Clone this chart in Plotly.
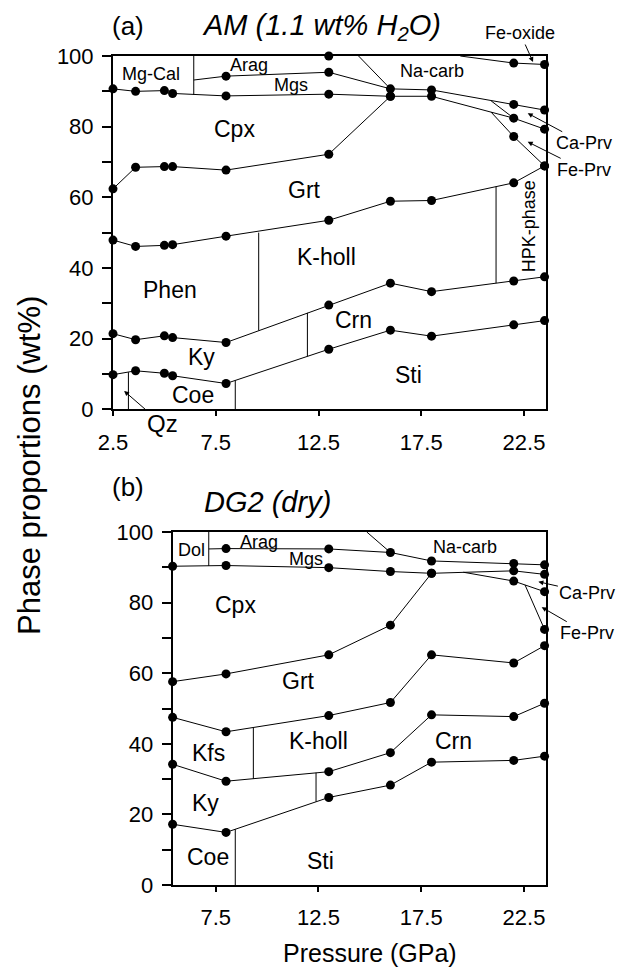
import plotly.graph_objects as go

# ---------------- data: panel (a) AM (1.1 wt% H2O) ----------------
am_p = [2.5, 3.6, 5.0, 5.4, 8.0, 13.0, 16.0, 18.0, 22.0, 23.5]
am_sti_top = [9.8, 10.9, 10.2, 9.5, 7.3, 17.0, 22.4, 20.7, 23.9, 25.1]
am_crn_top = [21.4, 19.7, 20.8, 20.3, 18.9, 29.5, 35.7, 33.3, 36.3, 37.5]
am_grt_bottom = [47.9, 46.1, 46.4, 46.6, 49.0, 53.5, 58.9, 59.1, 64.1, 68.9]
am_cpx_bottom_p = [2.5, 3.6, 5.0, 5.4, 8.0, 13.0, 16.0]
am_cpx_bottom = [62.4, 68.5, 68.7, 68.7, 67.7, 72.2, 88.6]
am_cpx_top_p = [2.5, 3.6, 5.0, 5.4, 8.0, 13.0, 16.0, 18.0, 22.0, 23.5]
am_cpx_top = [90.7, 90.0, 90.2, 89.4, 88.7, 89.2, 88.6, 88.6, 82.4, 79.3]
am_mgs_top_p = [6.43, 8.0, 13.0, 16.0, 18.0, 22.0, 23.5]
am_mgs_top = [93.2, 94.3, 95.4, 90.7, 90.4, 86.3, 84.7]
am_mgs_top_mark = [0, 1, 1, 1, 1, 1, 1]
am_arag_p = [13.0]
am_arag = [100.0]
am_feox_p = [19.4, 22.0, 23.5]
am_feox = [100.0, 98.0, 97.6]
am_feox_mark = [0, 1, 1]
am_feprv_p = [20.9, 22.0, 23.5]
am_feprv = [84.1, 77.2, 68.9]
am_feprv_mark = [0, 1, 1]
am_caprv_p = [20.9, 22.0]
am_caprv = [87.3, 82.4]
am_nacarb_p = [14.45, 16.0]
am_nacarb = [100.0, 90.7]
# vertical phase boundaries: pressure, top, bottom
am_vert_p = [6.43, 9.59, 11.96, 8.45, 3.25, 21.14]
am_vert_top = [100.0, 50.0, 27.3, 8.2, 10.5, 63.0]
am_vert_bot = [89.0, 22.3, 15.0, 0.0, 0.0, 35.7]

# ---------------- data: panel (b) DG2 (dry) ----------------
dg_p = [5.4, 8.0, 13.0, 16.0, 18.0, 22.0, 23.5]
dg_sti_top = [17.2, 14.9, 24.8, 28.3, 34.8, 35.3, 36.5]
dg_crn_top = [34.2, 29.4, 32.1, 37.5, 48.2, 47.7, 51.5]
dg_grt_bottom = [47.5, 43.4, 48.0, 51.7, 65.2, 62.9, 67.8]
dg_cpx_bottom_p = [5.4, 8.0, 13.0, 16.0, 18.0]
dg_cpx_bottom = [57.6, 59.8, 65.2, 73.6, 88.3]
dg_cpx_top = [90.3, 90.5, 89.9, 88.8, 88.3, 89.0, 88.0]
dg_mgs_top_p = [7.16, 8.0, 13.0, 16.0, 18.0, 22.0, 23.5]
dg_mgs_top = [95.2, 95.3, 95.2, 94.2, 91.8, 91.1, 90.7]
dg_mgs_top_mark = [0, 1, 1, 1, 1, 1, 1]
dg_caprv_p = [19.55, 22.0, 23.5]
dg_caprv = [88.6, 86.1, 83.1]
dg_caprv_mark = [0, 1, 1]
dg_feprv_p = [22.55, 23.5]
dg_feprv = [85.0, 72.4]
dg_feprv_mark = [0, 1]
dg_nacarb_p = [14.85, 16.0]
dg_nacarb = [100.0, 94.2]
dg_vert_p = [7.16, 9.33, 12.38, 8.45]
dg_vert_top = [100.0, 44.6, 31.8, 15.8]
dg_vert_bot = [90.4, 30.1, 23.6, 0.0]

# phase labels: text, pressure, wt%, size
am_labels = [("Mg-Cal", 4.35, 94.9, 18), ("Arag", 9.12, 97.4, 18), ("Mgs", 11.16, 91.8, 18),
             ("Na-carb", 18.0, 95.8, 18), ("Cpx", 8.39, 79.3, 23), ("Grt", 11.8, 62.0, 23),
             ("K-holl", 12.9, 43.1, 23), ("Phen", 5.27, 33.7, 23), ("Ky", 6.83, 14.8, 23),
             ("Coe", 6.39, 4.0, 23), ("Crn", 14.18, 25.2, 23), ("Sti", 16.86, 9.7, 23)]
dg_labels = [("Dol", 6.34, 94.9, 18), ("Arag", 9.6, 97.2, 18), ("Mgs", 11.9, 92.4, 18),
             ("Na-carb", 19.63, 95.7, 18), ("Cpx", 8.44, 79.3, 23), ("Grt", 11.55, 57.8, 23),
             ("Kfs", 7.17, 37.4, 23), ("K-holl", 12.5, 40.8, 23), ("Crn", 19.05, 40.8, 23),
             ("Ky", 6.98, 23.2, 23), ("Coe", 7.12, 7.9, 23), ("Sti", 12.6, 6.8, 23)]

x_ticks = [2.5, 7.5, 12.5, 17.5, 22.5]

FONT = "Liberation Sans, Arial, Helvetica, sans-serif"
W, H = 619, 967
PX_PER_GPA = 20.55
X0_PX, X1_PX = 113, 546
P_MAX = 2.5 + (X1_PX - X0_PX) / PX_PER_GPA
MS = 9

fig = go.Figure()


def add_line(xs, ys, ax, marks=None):
    if marks is None:
        marks = [1] * len(xs)
    fig.add_trace(go.Scatter(
        x=xs, y=ys, mode="lines+markers", xaxis="x" + ax, yaxis="y" + ax,
        line=dict(color="black", width=1),
        marker=dict(color="black", opacity=1, line=dict(width=0),
                    size=[MS if m else 0 for m in marks]),
        showlegend=False, hoverinfo="skip", cliponaxis=False))


def add_verticals(ps, tops, bots, ax):
    for p, t, b in zip(ps, tops, bots):
        fig.add_trace(go.Scatter(
            x=[p, p], y=[t, b], mode="lines", xaxis="x" + ax, yaxis="y" + ax,
            line=dict(color="black", width=1), showlegend=False, hoverinfo="skip"))


# panel (a)
add_line(am_p, am_sti_top, "")
add_line(am_p, am_crn_top, "")
add_line(am_p, am_grt_bottom, "")
add_line(am_cpx_bottom_p, am_cpx_bottom, "")
add_line(am_cpx_top_p, am_cpx_top, "")
add_line(am_mgs_top_p, am_mgs_top, "", am_mgs_top_mark)
add_line(am_arag_p, am_arag, "")
add_line(am_feox_p, am_feox, "", am_feox_mark)
add_line(am_feprv_p, am_feprv, "", am_feprv_mark)
add_line(am_caprv_p, am_caprv, "", [0, 0])
add_line(am_nacarb_p, am_nacarb, "", [0, 0])
add_verticals(am_vert_p, am_vert_top, am_vert_bot, "")

# panel (b)
add_line(dg_p, dg_sti_top, "2")
add_line(dg_p, dg_crn_top, "2")
add_line(dg_p, dg_grt_bottom, "2")
add_line(dg_cpx_bottom_p, dg_cpx_bottom, "2")
add_line(dg_p, dg_cpx_top, "2")
add_line(dg_mgs_top_p, dg_mgs_top, "2", dg_mgs_top_mark)
add_line(dg_caprv_p, dg_caprv, "2", dg_caprv_mark)
add_line(dg_feprv_p, dg_feprv, "2", dg_feprv_mark)
add_line(dg_nacarb_p, dg_nacarb, "2", [0, 0])
add_verticals(dg_vert_p, dg_vert_top, dg_vert_bot, "2")

CENTER = dict(xanchor="center", yanchor="middle")
annotations = []
for txt, x, y, s in am_labels:
    annotations.append(dict(text=txt, x=x, y=y, xref="x", yref="y", showarrow=False,
                            font=dict(size=s, family=FONT, color="black"), **CENTER))
for txt, x, y, s in dg_labels:
    annotations.append(dict(text=txt, x=x, y=y, xref="x2", yref="y2", showarrow=False,
                            font=dict(size=s, family=FONT, color="black"), **CENTER))

annotations.append(dict(text="HPK-phase", x=22.74, y=51.8, xref="x", yref="y", showarrow=False,
                        textangle=-90, font=dict(size=18, family=FONT, color="black"), **CENTER))

arrow_style = dict(showarrow=True, arrowhead=2, arrowsize=1, arrowwidth=1, arrowcolor="black",
                   axref="pixel", ayref="pixel")
arrows = [
    ("Qz", 3.04, 5.2, 38, 33, "", 24),
    ("Fe-oxide", 22.94, 98.3, -13, -29, "", 18),
    ("Ca-Prv", 22.68, 83.8, 56, 30, "", 18),
    ("Fe-Prv", 22.68, 75.7, 56, 28, "", 18),
    ("Ca-Prv", 23.2, 85.9, 49, 11, "2", 18),
    ("Fe-Prv", 23.36, 78.7, 45, 26, "2", 18),
]
for txt, x, y, ax, ay, axn, s in arrows:
    d = dict(text=txt, x=x, y=y, ax=ax, ay=ay, xref="x" + axn, yref="y" + axn,
             font=dict(size=s, family=FONT, color="black"))
    d.update(arrow_style)
    annotations.append(d)


# panel letters, titles, axis titles (paper coords from pixel positions)
def paper(px, py):
    return px / W, 1 - py / H


for txt, px, py, s in [("(a)", 128, 26, 26), ("(b)", 128, 487, 26)]:
    xx, yy = paper(px, py)
    annotations.append(dict(text=txt, x=xx, y=yy, xref="paper", yref="paper", showarrow=False,
                            font=dict(size=s, family=FONT, color="black"), **CENTER))
for txt, px, py in [("<i>AM (1.1 wt% H<sub>2</sub>O)</i>", 321, 27), ("<i>DG2 (dry)</i>", 267, 502)]:
    xx, yy = paper(px, py)
    annotations.append(dict(text=txt, x=xx, y=yy, xref="paper", yref="paper", showarrow=False,
                            font=dict(size=29, family=FONT, color="black"), **CENTER))
xx, yy = paper(29, 466)
annotations.append(dict(text="Phase proportions (wt%)", x=xx, y=yy, xref="paper", yref="paper",
                        showarrow=False, textangle=-90,
                        font=dict(size=31, family=FONT, color="black"), **CENTER))
xx, yy = paper(370, 953)
annotations.append(dict(text="Pressure (GPa)", x=xx, y=yy, xref="paper", yref="paper",
                        showarrow=False, font=dict(size=25, family=FONT, color="black"), **CENTER))

axis_common = dict(showline=True, linewidth=2, linecolor="black", mirror=True, showgrid=False,
                   zeroline=False, ticks="outside", tickcolor="black", tickwidth=1.5,
                   tickfont=dict(size=22, family=FONT, color="black"))
y_common = dict(range=[0, 100], tick0=0, dtick=20, ticklen=9, ticklabelstandoff=4,
                minor=dict(dtick=10, ticklen=9, ticks="outside", tickcolor="black", tickwidth=1.5,
                           showgrid=False))
x_common = dict(tickvals=x_ticks, ticklen=5, ticklabelstandoff=7)

x2_start_px = X0_PX + (dg_p[0] - 2.5) * PX_PER_GPA

fig.update_layout(
    width=W, height=H, margin=dict(l=0, r=0, t=0, b=0, autoexpand=False),
    paper_bgcolor="white", plot_bgcolor="white",
    xaxis=dict(domain=[X0_PX / W, X1_PX / W], range=[2.5, P_MAX], anchor="y",
               **x_common, **axis_common),
    yaxis=dict(domain=[1 - 409.3 / H, 1 - 56 / H], anchor="x", **y_common, **axis_common),
    xaxis2=dict(domain=[x2_start_px / W, X1_PX / W], range=[dg_p[0], P_MAX], anchor="y2",
                **x_common, **axis_common),
    yaxis2=dict(domain=[1 - 885 / H, 1 - 532 / H], anchor="x2", **y_common, **axis_common),
    annotations=annotations,
)

fig.write_html("out.html", config={"displayModeBar": False},
               post_script="document.body.style.margin='0';")
